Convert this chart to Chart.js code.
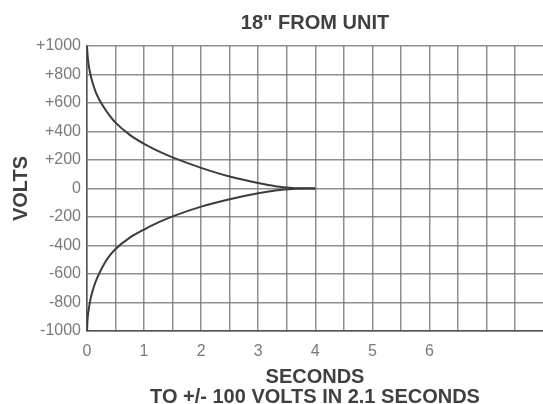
<!DOCTYPE html>
<html>
<head>
<meta charset="utf-8">
<script src="https://cdn.jsdelivr.net/npm/chart.js@4/dist/chart.umd.min.js"></script>
<style>
    html, body { margin: 0; padding: 0; background: #fff; }
    #wrap { width: 543px; height: 404px; }
</style>
</head>
<body>
<div id="wrap"><canvas id="chart"></canvas></div>
<script>
// values
const upperTime = [0, 0.01, 0.03, 0.06, 0.1, 0.15, 0.2, 0.3, 0.4, 0.5, 0.75, 1.0, 1.25, 1.5, 2.0, 2.5, 3.0, 3.3, 3.6, 4.0];
const upperVolts = [1000, 935, 866, 800, 740, 680, 635, 567, 510, 462, 376, 313, 262, 218, 145, 84, 38, 16, 4, 0];
const lowerTime = [0, 0.01, 0.03, 0.06, 0.1, 0.15, 0.21, 0.3, 0.4, 0.5, 0.75, 1.0, 1.25, 1.5, 2.0, 2.5, 3.0, 3.3, 3.6, 4.0];
const lowerVolts = [-1000, -915, -850, -780, -715, -655, -600, -530, -470, -425, -345, -288, -238, -196, -127, -75, -33, -14, -3, 0];
const xLabels = [0, 1, 2, 3, 4, 5, 6]; // only these seconds get a label

const toPoints = (xs, ys) => xs.map((x, i) => ({ x: x, y: ys[i] }));

const lineStyle = {
    borderColor: '#3c3c3c',
    borderWidth: 2,
    pointRadius: 0,
    cubicInterpolationMode: 'monotone',
    fill: false,
};

const gridColor = 'rgba(115,115,115,0.8)';
const labelFont = { family: 'Liberation Sans', size: 16 };
const boldFont = { family: 'Liberation Sans', size: 20, weight: 'bold', lineHeight: 1 };

new Chart(document.getElementById('chart'), {
    type: 'line',
    data: {
        datasets: [
            { label: 'Positive', data: toPoints(upperTime, upperVolts), ...lineStyle },
            { label: 'Negative', data: toPoints(lowerTime, lowerVolts), ...lineStyle },
        ],
    },
    options: {
        responsive: true,
        maintainAspectRatio: false,
        animation: false,
        layout: { padding: 0 },
        scales: {
            x: {
                type: 'linear',
                min: 0,
                max: 7.99,
                afterFit: (scale) => { scale.height = 59; },
                ticks: {
                    stepSize: 0.5,
                    includeBounds: false,
                    padding: 11,
                    maxRotation: 0,
                    autoSkip: false,
                    color: '#7a7a7a',
                    font: labelFont,
                    callback: (value) => (xLabels.includes(value) ? String(value) : ''),
                },
                grid: { color: gridColor, lineWidth: 1.5, drawTicks: false },
                border: { color: '#555', width: 1.5 },
                title: {
                    display: true,
                    text: 'SECONDS',
                    color: '#404040',
                    font: boldFont,
                    padding: { top: 0, bottom: 3 },
                },
            },
            y: {
                min: -1000,
                max: 1000,
                afterFit: (scale) => { scale.width = 87; },
                ticks: {
                    stepSize: 200,
                    padding: 6,
                    color: '#7a7a7a',
                    font: labelFont,
                    callback: (value) => (value > 0 ? '+' + value : String(value)),
                },
                grid: { color: gridColor, lineWidth: 1.5, drawTicks: false },
                border: { color: '#555', width: 1.5 },
                title: {
                    display: true,
                    text: 'VOLTS',
                    color: '#404040',
                    font: boldFont,
                    padding: { top: 11, bottom: 0 },
                },
            },
        },
        plugins: {
            legend: { display: false },
            tooltip: { enabled: false },
            title: {
                display: true,
                text: '18" FROM UNIT',
                color: '#404040',
                font: boldFont,
                fullSize: false,
                padding: { top: 13, bottom: 13 },
            },
            subtitle: {
                display: true,
                position: 'bottom',
                text: 'TO +/- 100 VOLTS IN 2.1 SECONDS',
                color: '#404040',
                font: { family: 'Liberation Sans', size: 20, weight: 'bold', lineHeight: 0.7 },
                fullSize: false,
                padding: 0,
            },
        },
    },
});
</script>
</body>
</html>
